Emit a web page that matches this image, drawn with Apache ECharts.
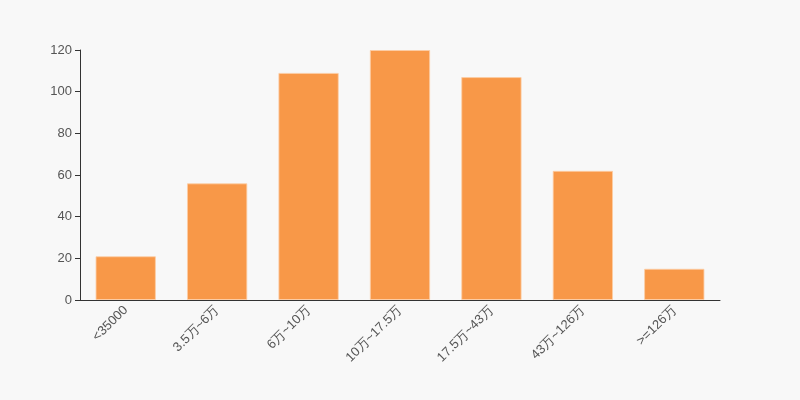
<!DOCTYPE html>
<html><head><meta charset="utf-8">
<script src="https://cdn.jsdelivr.net/npm/echarts@6/dist/echarts.min.js"></script>
<style>html,body{margin:0;padding:0;background:#f8f8f8}#c{width:800px;height:400px}</style>
</head><body><div id="c"></div>
<script>
const categories = ['<35000','3.5万~6万','6万~10万','10万~17.5万','17.5万~43万','43万~126万','>=126万'];
const values = [21, 56, 109, 120, 107, 62, 15];
const chart = echarts.init(document.getElementById('c'));
chart.setOption({
  backgroundColor: '#f8f8f8',
  animation: false,
  grid: {left: 80, right: 80, top: 50, bottom: 100},
  xAxis: {
    type: 'category', data: categories,
    axisLine: {lineStyle: {color: '#333'}},
    axisTick: {lineStyle: {color: '#333'}},
    axisLabel: {rotate: 45, color: '#555', fontSize: 13, interval: 0, fontFamily: 'sans-serif'}
  },
  yAxis: {
    type: 'value', min: 0, max: 120, interval: 20,
    axisLine: {show: true, lineStyle: {color: '#333'}},
    axisTick: {show: true, lineStyle: {color: '#333'}},
    splitLine: {show: false},
    axisLabel: {color: '#555', fontSize: 13, fontFamily: 'sans-serif'}
  },
  series: [{
    type: 'bar', data: values, barWidth: '66%',
    itemStyle: {color: '#f89848', borderColor: 'rgba(252,205,165,0.8)', borderWidth: 1}
  }]
});
</script></body></html>
